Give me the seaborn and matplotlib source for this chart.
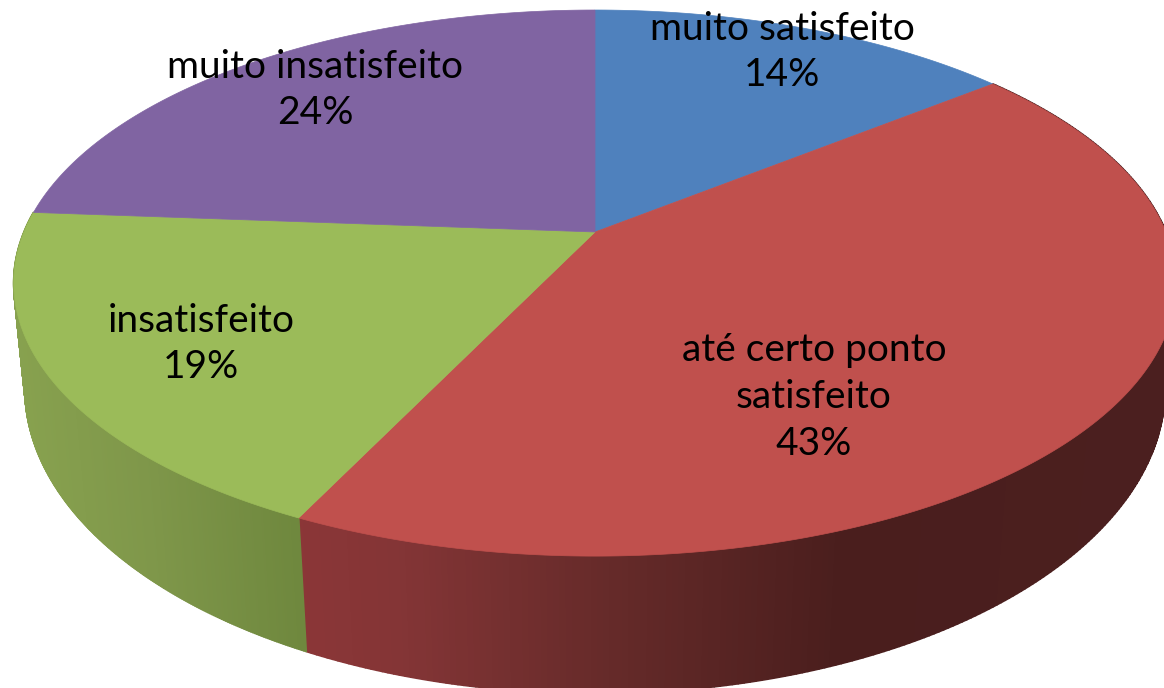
import numpy as np
import matplotlib
matplotlib.use("Agg")
import matplotlib.pyplot as plt
import seaborn as sns
from matplotlib.collections import PolyCollection
from matplotlib.colors import to_rgb
from matplotlib.path import Path
from matplotlib.transforms import Affine2D, Transform

categories = ["muito satisfeito", "até certo ponto\nsatisfeito", "insatisfeito", "muito insatisfeito"]
values = [14.2, 42.9, 19.1, 23.8]
top_colors = ["#4f81bd", "#c0504d", "#9bbb59", "#8064a2"]
label_centres = [(782, 52), (814, 397), (201, 344), (315, 90)]

# horizontal shading of the rim, per slice: (pixel x, colour)
rim_shades = {
    1: [(300, "#8b3637"), (400, "#843536"), (600, "#672b2a"), (840, "#4a1e1d"), (1164, "#4b1f1f")],
    2: [(15, "#88a24f"), (150, "#7f974a"), (300, "#6f883e")],
}


class Perspective(Transform):
    """Projects the unit-circle pie on to the tilted plane of the picture."""
    input_dims = output_dims = 2
    is_separable = False

    def __init__(self, cx, cy, a, b, k):
        super().__init__()
        self.p = (cx, cy, a, b, k)

    def transform_non_affine(self, xy):
        cx, cy, a, b, k = self.p
        xy = np.asarray(xy, float)
        d = 1 + k * xy[:, 1]
        return np.column_stack([cx + a * xy[:, 0] / d, cy - b * xy[:, 1] / d])

    def transform_path_non_affine(self, path):
        poly = path.to_polygons(Affine2D().scale(4000), closed_only=False)[0] / 4000
        return Path(self.transform_non_affine(poly))


top_plane = Perspective(595, 232, 571, 263.5, 0.187)
bottom_plane = Perspective(595, 333.6, 560.7, 295.1, 0.18)

sns.set_theme(style="white")
plt.rcParams["font.family"] = ["Lato", "DejaVu Sans"]
palette = sns.color_palette(top_colors)

fig = plt.figure(figsize=(11.64, 6.88), dpi=100)
ax = fig.add_axes([0, 0, 1, 1])
wedges, _ = ax.pie(values, colors=palette, startangle=90, counterclock=False)
ax.set_aspect("auto")
ax.set_xlim(0, 1164)
ax.set_ylim(688, 0)
ax.axis("off")

for i, w in enumerate(wedges):
    w.set_transform(top_plane + ax.transData)
    w.set_edgecolor(w.get_facecolor())
    w.set_linewidth(0.5)
    w.set_zorder(3)
    if i not in rim_shades:
        continue
    t = np.radians(np.linspace(w.theta1, w.theta2, 300))
    circle = np.column_stack([np.cos(t), np.sin(t)])
    up = top_plane.transform_non_affine(circle)
    low = bottom_plane.transform_non_affine(circle)
    quads = [[up[j], up[j + 1], low[j + 1], low[j]] for j in range(len(t) - 1)]
    xs, cols = zip(*rim_shades[i])
    rgb = np.array([to_rgb(c) for c in cols])
    mid = np.mean(quads, axis=1)[:, 0]
    fc = np.column_stack([np.interp(mid, xs, rgb[:, c]) for c in range(3)])
    ax.add_collection(PolyCollection(quads, facecolors=fc, edgecolors=fc, linewidths=1.3, zorder=2))

for cat, val, (x, y) in zip(categories, values, label_centres):
    ax.text(x, y, f"{cat}\n{val:.0f}%", ha="center", va="center", multialignment="center",
            fontsize=28, color="black", linespacing=1.37, zorder=4)

fig.savefig("out.png", dpi=100)
